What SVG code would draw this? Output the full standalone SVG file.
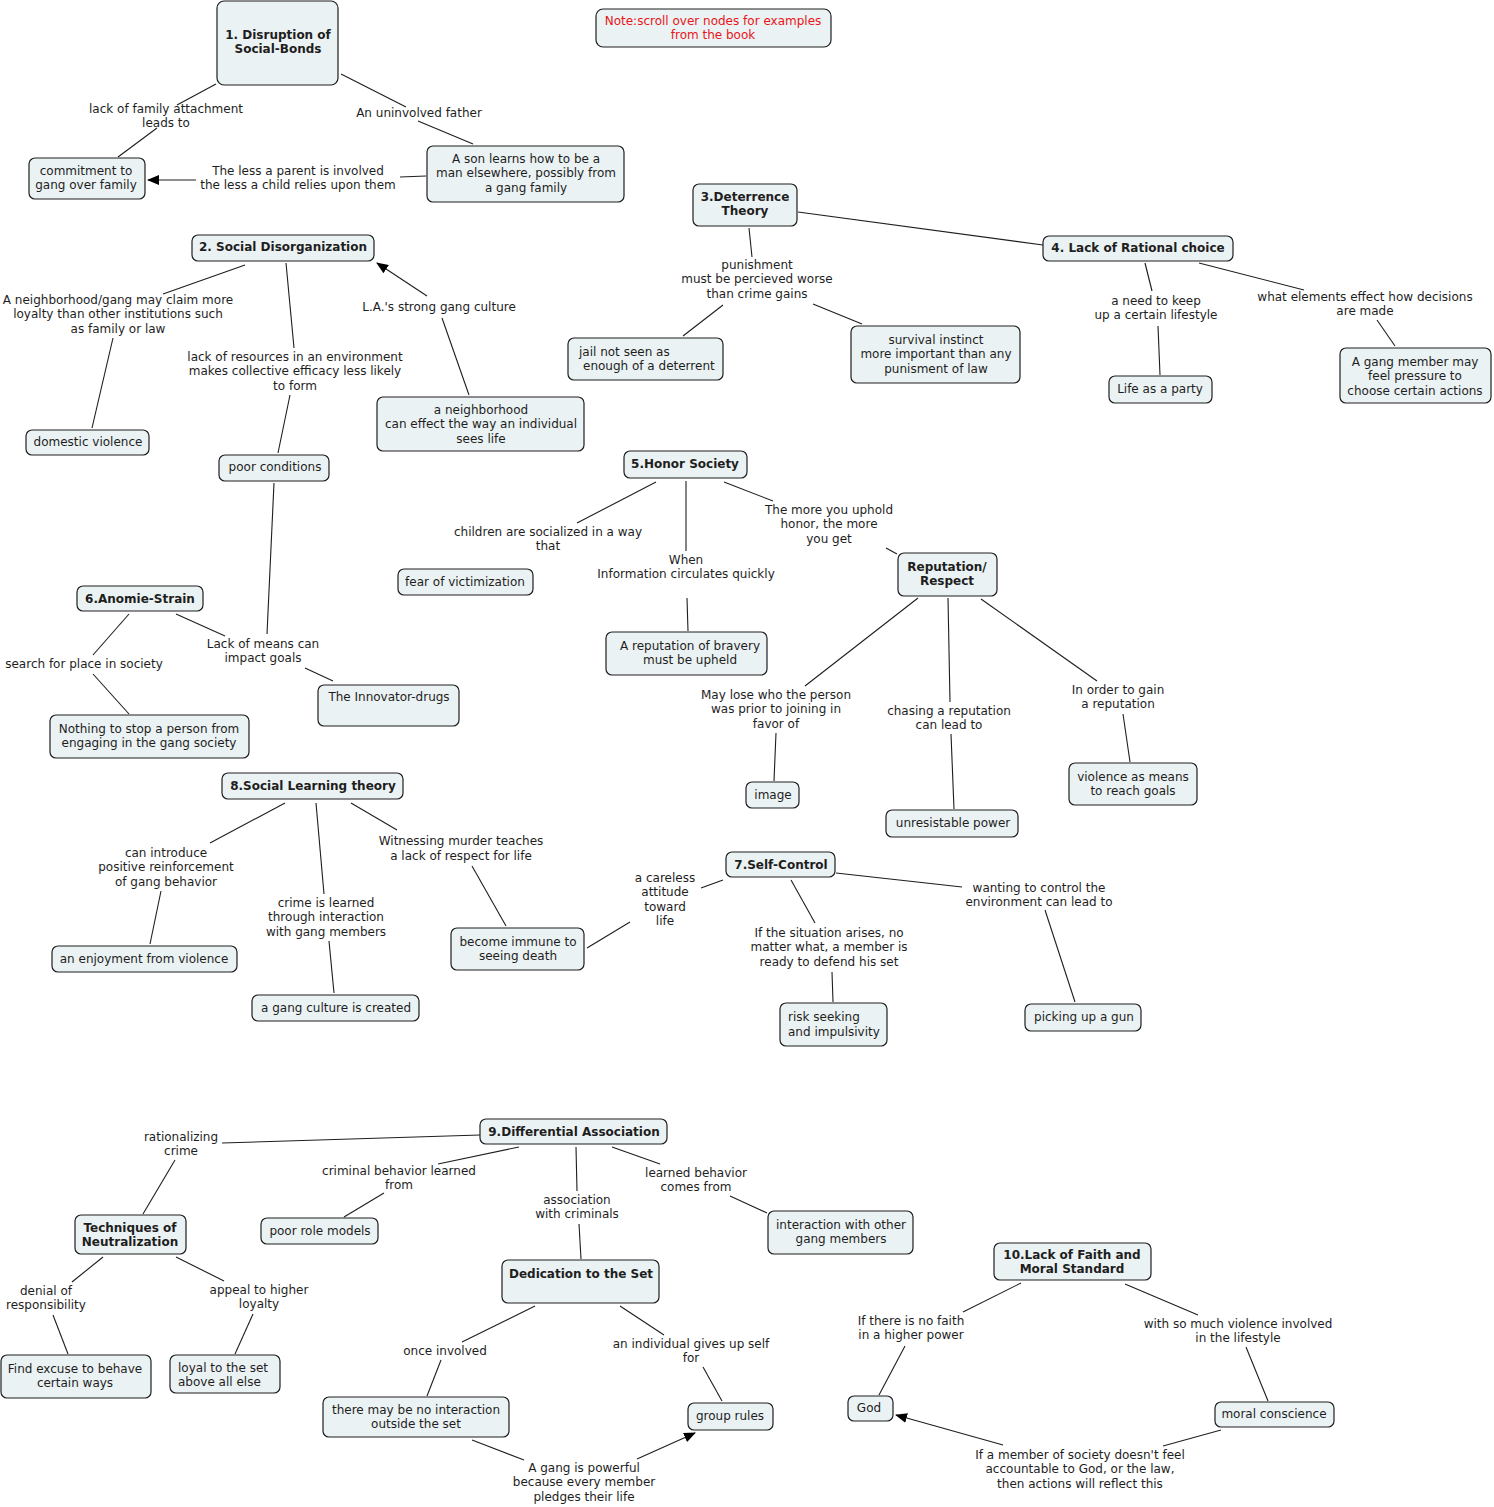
<svg xmlns="http://www.w3.org/2000/svg" width="1494" height="1507" viewBox="0 0 1494 1507">
<style>
.n rect{fill:#ebf2f3;stroke:#1e1e1e;stroke-width:1.2}
text{font-family:"DejaVu Sans",Verdana,sans-serif;font-size:12px;fill:#1e1e1e;text-anchor:middle}
.b{font-weight:bold}
.red{fill:#e8141a}
.l{text-anchor:start}
.c line{stroke:#1e1e1e;stroke-width:1.1}
.a{marker-end:url(#arr)}
</style>
<defs>
<marker id="arr" viewBox="0 0 12 10" refX="11" refY="5" markerWidth="12" markerHeight="10" markerUnits="userSpaceOnUse" orient="auto">
<path d="M0,0 L12,5 L0,10 Z" fill="#000"/>
</marker>
</defs>
<rect width="1494" height="1507" fill="#fff"/>

<g id="connectors" class="c">
<line x1="216" y1="84" x2="177" y2="105"/><line x1="157" y1="128" x2="118" y2="157"/>
<text x="166" y="113">lack of family attachment</text><text x="166" y="127">leads to</text>
<line x1="341" y1="74" x2="406" y2="107"/><line x1="418" y1="121" x2="473" y2="144"/>
<text x="419" y="117">An uninvolved father</text>
<line x1="426" y1="176" x2="400" y2="177"/><line class="a" x1="196" y1="180" x2="148" y2="180"/>
<text x="298" y="175">The less a parent is involved</text><text x="298" y="189">the less a child relies upon them</text>
<line x1="245" y1="265" x2="163" y2="294"/><line x1="113" y1="338" x2="92" y2="428"/>
<text x="118" y="304">A neighborhood/gang may claim more</text><text x="118" y="318">loyalty than other institutions such</text><text x="118" y="333">as family or law</text>
<line x1="286" y1="263" x2="294" y2="348"/><line x1="290" y1="395" x2="278" y2="453"/>
<text x="295" y="361">lack of resources in an environment</text><text x="295" y="375">makes collective efficacy less likely</text><text x="295" y="390">to form</text>
<line x1="469" y1="395" x2="442" y2="318"/><line class="a" x1="427" y1="296" x2="377" y2="263"/>
<text x="439" y="311">L.A.'s strong gang culture</text>
<line x1="749" y1="228" x2="752" y2="257"/><line x1="683" y1="336" x2="723" y2="305"/><line x1="813" y1="304" x2="862" y2="324"/>
<text x="757" y="269">punishment</text><text x="757" y="283">must be percieved worse</text><text x="757" y="298">than crime gains</text>
<line x1="798" y1="212" x2="1043" y2="245"/>
<line x1="1145" y1="263" x2="1152" y2="291"/><line x1="1158" y1="326" x2="1160" y2="375"/>
<text x="1156" y="305">a need to keep</text><text x="1156" y="319">up a certain lifestyle</text>
<line x1="1199" y1="263" x2="1304" y2="290"/><line x1="1377" y1="320" x2="1395" y2="346"/>
<text x="1365" y="301">what elements effect how decisions</text><text x="1365" y="315">are made</text>
<line x1="656" y1="482" x2="577" y2="523"/>
<text x="548" y="536">children are socialized in a way</text><text x="548" y="550">that</text>
<line x1="686" y1="481" x2="686" y2="551"/><line x1="687" y1="598" x2="688" y2="631"/>
<text x="686" y="564">When</text><text x="686" y="578">Information circulates quickly</text>
<line x1="724" y1="482" x2="773" y2="501"/><line x1="886" y1="548" x2="897" y2="554"/>
<text x="829" y="514">The more you uphold</text><text x="829" y="528">honor, the more</text><text x="829" y="543">you get</text>
<line x1="918" y1="598" x2="805" y2="686"/><line x1="776" y1="733" x2="774" y2="781"/>
<text x="776" y="699">May lose who the person</text><text x="776" y="713">was prior to joining in</text><text x="776" y="728">favor of</text>
<line x1="948" y1="598" x2="950" y2="702"/><line x1="951" y1="734" x2="954" y2="809"/>
<text x="949" y="715">chasing a reputation</text><text x="949" y="729">can lead to</text>
<line x1="981" y1="599" x2="1097" y2="681"/><line x1="1123" y1="714" x2="1130" y2="762"/>
<text x="1118" y="694">In order to gain</text><text x="1118" y="708">a reputation</text>
<line x1="129" y1="614" x2="93" y2="655"/><line x1="93" y1="674" x2="129" y2="714"/>
<text x="84" y="668">search for place in society</text>
<line x1="176" y1="614" x2="225" y2="636"/><line x1="305" y1="668" x2="333" y2="681"/>
<text x="263" y="648">Lack of means can</text><text x="263" y="662">impact goals</text>
<line x1="274" y1="483" x2="267" y2="634"/>
<line x1="285" y1="803" x2="210" y2="843"/><line x1="161" y1="891" x2="150" y2="944"/>
<text x="166" y="857">can introduce</text><text x="166" y="871">positive reinforcement</text><text x="166" y="886">of gang behavior</text>
<line x1="316" y1="803" x2="324" y2="894"/><line x1="329" y1="941" x2="334" y2="993"/>
<text x="326" y="907">crime is learned</text><text x="326" y="921">through interaction</text><text x="326" y="936">with gang members</text>
<line x1="351" y1="803" x2="397" y2="830"/><line x1="472" y1="866" x2="506" y2="926"/>
<text x="461" y="845">Witnessing murder teaches</text><text x="461" y="860">a lack of respect for life</text>
<line x1="723" y1="880" x2="701" y2="888"/><line x1="630" y1="922" x2="587" y2="948"/>
<text x="665" y="882">a careless</text><text x="665" y="896">attitude</text><text x="665" y="911">toward</text><text x="665" y="925">life</text>
<line x1="791" y1="880" x2="815" y2="923"/><line x1="832" y1="972" x2="833" y2="1002"/>
<text x="829" y="937">If the situation arises, no</text><text x="829" y="951">matter what, a member is</text><text x="829" y="966">ready to defend his set</text>
<line x1="836" y1="873" x2="962" y2="887"/><line x1="1045" y1="910" x2="1075" y2="1002"/>
<text x="1039" y="892">wanting to control the</text><text x="1039" y="906">environment can lead to</text>
<line x1="480" y1="1135" x2="222" y2="1143"/><line x1="175" y1="1160" x2="143" y2="1214"/>
<text x="181" y="1141">rationalizing</text><text x="181" y="1155">crime</text>
<line x1="519" y1="1147" x2="438" y2="1164"/><line x1="384" y1="1193" x2="344" y2="1217"/>
<text x="399" y="1175">criminal behavior learned</text><text x="399" y="1189">from</text>
<line x1="576" y1="1147" x2="577" y2="1191"/><line x1="579" y1="1224" x2="581" y2="1259"/>
<text x="577" y="1204">association</text><text x="577" y="1218">with criminals</text>
<line x1="612" y1="1147" x2="660" y2="1164"/><line x1="730" y1="1196" x2="767" y2="1213"/>
<text x="696" y="1177">learned behavior</text><text x="696" y="1191">comes from</text>
<line x1="103" y1="1257" x2="72" y2="1282"/><line x1="53" y1="1315" x2="68" y2="1354"/>
<text x="46" y="1295">denial of</text><text x="46" y="1309">responsibility</text>
<line x1="176" y1="1257" x2="224" y2="1281"/><line x1="253" y1="1314" x2="235" y2="1354"/>
<text x="259" y="1294">appeal to higher</text><text x="259" y="1308">loyalty</text>
<line x1="535" y1="1306" x2="462" y2="1342"/><line x1="441" y1="1360" x2="427" y2="1396"/>
<text x="445" y="1355">once involved</text>
<line x1="620" y1="1306" x2="664" y2="1335"/><line x1="703" y1="1367" x2="722" y2="1401"/>
<text x="691" y="1348">an individual gives up self</text><text x="691" y="1362">for</text>
<line x1="472" y1="1440" x2="524" y2="1460"/><line class="a" x1="637" y1="1459" x2="695" y2="1433"/>
<text x="584" y="1472">A gang is powerful</text><text x="584" y="1486">because every member</text><text x="584" y="1501">pledges their life</text>
<line x1="1021" y1="1283" x2="963" y2="1312"/><line x1="905" y1="1346" x2="879" y2="1395"/>
<text x="911" y="1325">If there is no faith</text><text x="911" y="1339">in a higher power</text>
<line x1="1125" y1="1284" x2="1198" y2="1315"/><line x1="1246" y1="1347" x2="1268" y2="1401"/>
<text x="1238" y="1328">with so much violence involved</text><text x="1238" y="1342">in the lifestyle</text>
<line x1="1221" y1="1430" x2="1163" y2="1446"/><line class="a" x1="1003" y1="1445" x2="896" y2="1415"/>
<text x="1080" y="1459">If a member of society doesn't feel</text><text x="1080" y="1473">accountable to God, or the law,</text><text x="1080" y="1488">then actions will reflect this</text>
</g>

<g id="n1" class="n"><rect x="217" y="1" width="121" height="84" rx="7"/><text class="b" x="278" y="39">1. Disruption of</text><text class="b" x="278" y="53">Social-Bonds</text></g>
<g id="note" class="n"><rect x="596" y="9" width="235" height="38" rx="7"/><text class="red" x="713" y="25">Note:scroll over nodes for examples</text><text class="red" x="713" y="39">from the book</text></g>
<g id="n_commit" class="n"><rect x="29" y="158" width="116" height="41" rx="6"/><text x="86" y="175">commitment to</text><text x="86" y="189">gang over family</text></g>
<g id="n_son" class="n"><rect x="427" y="146" width="197" height="56" rx="6"/><text x="526" y="163">A son learns how to be a</text><text x="526" y="177">man elsewhere, possibly from</text><text x="526" y="192">a gang family</text></g>
<g id="n2" class="n"><rect x="192" y="235" width="182" height="26" rx="6"/><text class="b" x="283" y="251">2. Social Disorganization</text></g>
<g id="n_domestic" class="n"><rect x="26" y="430" width="123" height="25" rx="6"/><text x="88" y="446">domestic violence</text></g>
<g id="n_poor" class="n"><rect x="219" y="455" width="110" height="26" rx="6"/><text x="275" y="471">poor conditions</text></g>
<g id="n_neigh" class="n"><rect x="377" y="397" width="207" height="54" rx="6"/><text x="481" y="414">a neighborhood</text><text x="481" y="428">can effect the way an individual</text><text x="481" y="443">sees life</text></g>
<g id="n3" class="n"><rect x="693" y="184" width="104" height="42" rx="6"/><text class="b" x="745" y="201">3.Deterrence</text><text class="b" x="745" y="215">Theory</text></g>
<g id="n4" class="n"><rect x="1043" y="236" width="190" height="25" rx="6"/><text class="b" x="1138" y="252">4. Lack of Rational choice</text></g>
<g id="n_jail" class="n"><rect x="568" y="338" width="155" height="42" rx="6"/><text class="l" x="579" y="356">jail not seen as</text><text class="l" x="583" y="370">enough of a deterrent</text></g>
<g id="n_survival" class="n"><rect x="851" y="326" width="169" height="57" rx="6"/><text x="936" y="344">survival instinct</text><text x="936" y="358">more important than any</text><text x="936" y="373">punisment of law</text></g>
<g id="n_party" class="n"><rect x="1109" y="376" width="103" height="27" rx="6"/><text x="1160" y="393">Life as a party</text></g>
<g id="n_pressure" class="n"><rect x="1340" y="348" width="151" height="55" rx="6"/><text x="1415" y="366">A gang member may</text><text x="1415" y="380">feel pressure to</text><text x="1415" y="395">choose certain actions</text></g>
<g id="n5" class="n"><rect x="624" y="451" width="123" height="27" rx="6"/><text class="b" x="685" y="468">5.Honor Society</text></g>
<g id="n_fear" class="n"><rect x="398" y="569" width="135" height="26" rx="6"/><text x="465" y="586">fear of victimization</text></g>
<g id="n_bravery" class="n"><rect x="606" y="632" width="161" height="43" rx="6"/><text x="690" y="650">A reputation of bravery</text><text x="690" y="664">must be upheld</text></g>
<g id="n_rep" class="n"><rect x="898" y="553" width="99" height="43" rx="6"/><text class="b" x="947" y="571">Reputation/</text><text class="b" x="947" y="585">Respect</text></g>
<g id="n6" class="n"><rect x="77" y="586" width="126" height="25" rx="6"/><text class="b" x="140" y="603">6.Anomie-Strain</text></g>
<g id="n_innov" class="n"><rect x="318" y="685" width="141" height="41" rx="6"/><text x="389" y="701">The Innovator-drugs</text></g>
<g id="n_nothing" class="n"><rect x="50" y="715" width="199" height="43" rx="6"/><text x="149" y="733">Nothing to stop a person from</text><text x="149" y="747">engaging in the gang society</text></g>
<g id="n_image" class="n"><rect x="746" y="782" width="53" height="26" rx="6"/><text x="773" y="799">image</text></g>
<g id="n_power" class="n"><rect x="886" y="810" width="132" height="27" rx="6"/><text x="953" y="827">unresistable power</text></g>
<g id="n_violence" class="n"><rect x="1069" y="763" width="128" height="42" rx="6"/><text x="1133" y="781">violence as means</text><text x="1133" y="795">to reach goals</text></g>
<g id="n8" class="n"><rect x="222" y="773" width="181" height="26" rx="6"/><text class="b" x="313" y="790">8.Social Learning theory</text></g>
<g id="n_enjoy" class="n"><rect x="52" y="946" width="185" height="26" rx="6"/><text x="144" y="963">an enjoyment from violence</text></g>
<g id="n_culture" class="n"><rect x="252" y="995" width="167" height="26" rx="6"/><text x="336" y="1012">a gang culture is created</text></g>
<g id="n_immune" class="n"><rect x="451" y="928" width="133" height="42" rx="6"/><text x="518" y="946">become immune to</text><text x="518" y="960">seeing death</text></g>
<g id="n7" class="n"><rect x="726" y="852" width="109" height="25" rx="6"/><text class="b" x="781" y="869">7.Self-Control</text></g>
<g id="n_risk" class="n"><rect x="780" y="1003" width="107" height="43" rx="6"/><text class="l" x="788" y="1021">risk seeking</text><text class="l" x="788" y="1036">and impulsivity</text></g>
<g id="n_gun" class="n"><rect x="1025" y="1004" width="116" height="27" rx="6"/><text x="1084" y="1021">picking up a gun</text></g>
<g id="n9" class="n"><rect x="480" y="1119" width="187" height="25" rx="6"/><text class="b" x="574" y="1136">9.Differential Association</text></g>
<g id="n_tech" class="n"><rect x="75" y="1215" width="111" height="39" rx="6"/><text class="b" x="130" y="1232">Techniques of</text><text class="b" x="130" y="1246">Neutralization</text></g>
<g id="n_role" class="n"><rect x="261" y="1218" width="117" height="26" rx="6"/><text x="320" y="1235">poor role models</text></g>
<g id="n_inter" class="n"><rect x="768" y="1211" width="145" height="43" rx="6"/><text x="841" y="1229">interaction with other</text><text x="841" y="1243">gang members</text></g>
<g id="n_ded" class="n"><rect x="502" y="1260" width="157" height="43" rx="6"/><text class="b" x="581" y="1278">Dedication to the Set</text></g>
<g id="n10" class="n"><rect x="994" y="1243" width="157" height="37" rx="6"/><text class="b" x="1072" y="1259">10.Lack of Faith and</text><text class="b" x="1072" y="1273">Moral Standard</text></g>
<g id="n_excuse" class="n"><rect x="1" y="1355" width="150" height="43" rx="6"/><text x="75" y="1373">Find excuse to behave</text><text x="75" y="1387">certain ways</text></g>
<g id="n_loyal" class="n"><rect x="170" y="1355" width="110" height="38" rx="6"/><text class="l" x="178" y="1372">loyal to the set</text><text class="l" x="178" y="1386">above all else</text></g>
<g id="n_nointer" class="n"><rect x="323" y="1397" width="186" height="40" rx="6"/><text x="416" y="1414">there may be no interaction</text><text x="416" y="1428">outside the set</text></g>
<g id="n_rules" class="n"><rect x="688" y="1403" width="85" height="27" rx="6"/><text x="730" y="1420">group rules</text></g>
<g id="n_god" class="n"><rect x="848" y="1396" width="45" height="25" rx="6"/><text x="869" y="1412">God</text></g>
<g id="n_moral" class="n"><rect x="1215" y="1402" width="119" height="25" rx="6"/><text x="1274" y="1418">moral conscience</text></g>
</svg>
